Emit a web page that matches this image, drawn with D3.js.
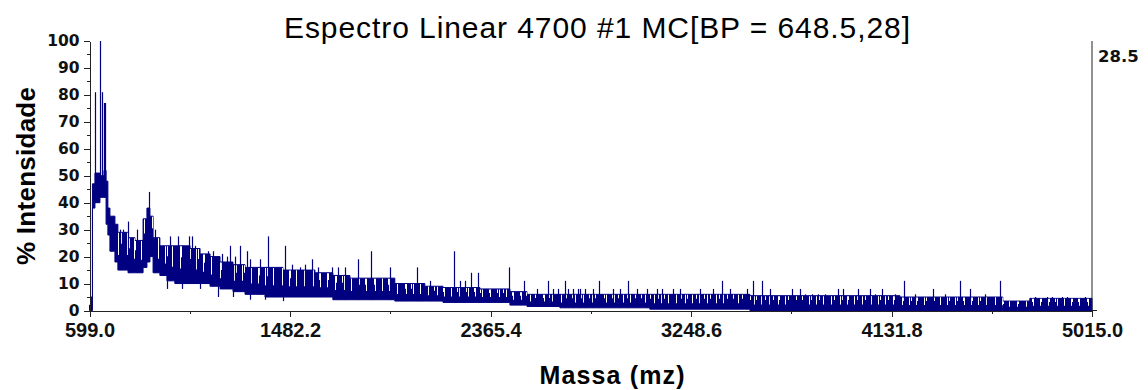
<!DOCTYPE html>
<html>
<head>
<meta charset="utf-8">
<script src="https://cdn.jsdelivr.net/npm/d3@7"></script>
<style>
  body { margin: 0; background: #fff; }
  svg { display: block; }
</style>
</head>
<body>
<svg id="chart" width="1148" height="390"></svg>
<script>
// axis ticks
const xTicks = [599.0, 1482.2, 2365.4, 3248.6, 4131.8, 5015.0];
const yTicks = [0, 10, 20, 30, 40, 50, 60, 70, 80, 90, 100];
const yMinorTicks = [5, 15, 25, 35, 45, 55, 65, 75, 85, 95];
const basePeakCounts = '28.5';

// noise band of the spectrum (m/z, lowest and highest % reached)
const bandMass = [599, 606, 612, 623, 645, 663, 672, 680, 689, 711, 724, 769, 799, 835, 852, 865, 879, 909, 940, 975,
    1042, 1086, 1130, 1174, 1231, 1284, 1372, 1451, 1526, 1592, 1671, 1746, 1821, 1944, 2010, 2076, 2156, 2319, 2451,
    2526, 2671, 3067, 3508, 4169, 4622, 4741, 5015];
const bandHigh = [2, 5, 47, 51, 50, 52, 48, 38, 35, 32, 29, 27, 26, 34, 38, 35, 27, 24, 24, 24,
    23, 21, 20, 18, 17, 16, 16, 15, 15, 14, 13, 12, 12, 10, 10, 9, 8.5, 8, 7,
    6, 6, 6, 5.5, 5, 3.5, 4.5, 4.5];
const bandLow = [0, 0, 38, 40, 42, 42, 32, 28, 22, 18, 15, 14, 14, 16, 18, 20, 14, 13, 11, 10,
    10, 10, 9, 8, 7, 6, 5, 5, 5, 5, 4, 4, 4, 3.5, 3.5, 3.5, 3, 3, 2,
    1.5, 1, 0.5, 0, 0, 0, 0, 0];

// single peaks standing out of the band
const peakMass = [623, 645, 656, 663, 668, 733, 746, 769, 808, 862, 887, 922, 953, 975, 989, 1011, 1037, 1050, 1064,
    1121, 1143, 1183, 1205, 1218, 1240, 1262, 1293, 1306, 1350, 1385, 1460, 1491, 1526, 1548, 1579, 1605, 1667, 1694,
    1724, 1783, 1838, 1922, 2041, 2098, 2204, 2231, 2253, 2279, 2310, 2446, 2512, 2570, 2618, 2640, 2662, 2693, 2706,
    2728, 2750, 2759, 2781, 2816, 2843, 2904, 2935, 2970, 3010, 3054, 3098, 3120, 3168, 3199, 3287, 3345, 3384, 3419,
    3494, 3521, 3560, 3596, 3692, 3728, 3750, 3781, 3807, 3838, 3895, 3917, 3983, 4036, 4058, 4089, 4146, 4186, 4234,
    4313, 4366, 4432, 4476, 4542, 4608, 4762, 4815, 4837, 4881, 4907, 4983];
const peakIntensity = [81, 100, 81, 77, 77, 30, 30, 33, 30, 44, 30, 24, 27.5, 24, 27.5, 24, 27.5, 27.5, 24,
    22, 22, 21, 20, 24, 20, 24, 22, 19, 19, 27.5, 24, 17, 16, 17, 19, 16, 16, 16,
    16, 19, 22, 16, 16, 11, 22, 11, 11, 14, 14, 16, 11, 8, 11, 8, 8, 11, 8,
    8, 8, 8, 8, 8, 11, 8, 8, 11, 8, 8, 8, 8, 8, 8, 8, 8, 11, 8,
    8, 11, 11, 8, 8, 8, 6, 6, 6, 6, 8, 8, 8, 8, 6, 8, 6, 11, 6,
    8, 6, 11, 8, 6, 11, 5, 5, 5, 5, 5, 5];

// short drops below the band
const dipMass = [940, 1006, 1086, 1165, 1231, 1306, 1372, 1451];
const dipIntensity = [8, 8, 8, 5, 5, 4, 4, 3.5];

const svg = d3.select('#chart');
const axisColor = '#222';
const lineColor = '#000080';
const arial = 'Arial, "Liberation Sans", Arimo, Helvetica, Roboto, sans-serif';
const wide = '"DejaVu Sans", Verdana, sans-serif';

const x = d3.scaleLinear().domain([599, 5015]).range([89.5, 1092]);
const y = d3.scaleLinear().domain([0, 100]).range([310.5, 41]);

// texture: the noise trace leaves thin white slits in the top of the band
const defs = svg.append('defs');
function slitPattern(id, width, slots) {
    const p = defs.append('pattern').attr('id', id)
        .attr('patternUnits', 'userSpaceOnUse').attr('width', width).attr('height', 390);
    slots.forEach(s => p.append('rect')
        .attr('x', s).attr('width', 1).attr('height', 390).style('fill', '#fff'));
}
slitPattern('slits-deep', 31, [3, 10, 17, 25]);
slitPattern('slits-short', 23, [6, 14, 20]);

// title
svg.append('text')
    .attr('x', 597).attr('y', 38)
    .attr('text-anchor', 'middle')
    .attr('textLength', 626)
    .style('font-family', arial)
    .style('font-size', '30px')
    .style('fill', '#000')
    .text('Espectro Linear 4700 #1 MC[BP = 648.5,28]');

const band = bandMass.map((m, i) => ({ m: m, lo: bandLow[i], hi: bandHigh[i] }));
const lowAt = m => band[Math.max(0, d3.bisector(d => d.m).right(band, m) - 1)].lo;

const view = svg.append('g');

view.append('path')
    .datum(band)
    .attr('d', d3.area()
        .curve(d3.curveStepAfter)
        .x(d => x(d.m))
        .y0(d => y(d.lo))
        .y1(d => y(d.hi)))
    .style('fill', lineColor)
    .style('stroke', lineColor)
    .style('stroke-width', 1);

[['slits-deep', 0.6], ['slits-short', 0.3]].forEach(([id, depth]) => {
    view.append('path')
        .datum(band.filter(d => d.m > 700))
        .attr('d', d3.area()
            .curve(d3.curveStepAfter)
            .x(d => x(d.m))
            .y0(d => y(d.hi - (d.hi - d.lo) * depth))
            .y1(d => y(d.hi) + 0.5))
        .style('fill', `url(#${id})`);
});

view.append('g').selectAll('line')
    .data(peakMass.map((m, i) => ({ m: m, v: peakIntensity[i] })))
    .enter().append('line')
    .attr('x1', d => Math.round(x(d.m)) + 0.5)
    .attr('x2', d => Math.round(x(d.m)) + 0.5)
    .attr('y1', d => y(lowAt(d.m)))
    .attr('y2', d => y(d.v))
    .style('stroke', lineColor)
    .style('stroke-width', 1.2);

view.append('g').selectAll('line')
    .data(dipMass.map((m, i) => ({ m: m, v: dipIntensity[i] })))
    .enter().append('line')
    .attr('x1', d => Math.round(x(d.m)) + 0.5)
    .attr('x2', d => Math.round(x(d.m)) + 0.5)
    .attr('y1', d => y(lowAt(d.m)))
    .attr('y2', d => y(d.v))
    .style('stroke', lineColor)
    .style('stroke-width', 1.2);

// left axis
const yAxisG = svg.append('g').attr('transform', 'translate(89.5,0)')
    .call(d3.axisLeft(y).tickValues(yTicks).tickSize(6).tickSizeOuter(0).tickPadding(4));
svg.append('g').attr('transform', 'translate(89.5,0)')
    .call(d3.axisLeft(y).tickValues(yMinorTicks).tickSize(3).tickSizeOuter(0).tickFormat(''))
    .select('.domain').remove();
yAxisG.selectAll('text')
    .style('font-family', wide)
    .style('font-weight', 'bold')
    .style('font-size', '15.5px')
    .style('fill', '#111');

// bottom axis
const xMinor = xTicks.slice(1).map((t, i) => (t + xTicks[i]) / 2);
const xAxisG = svg.append('g').attr('transform', 'translate(0,310.5)')
    .call(d3.axisBottom(x).tickValues(xTicks).tickFormat(d3.format('.1f')).tickSize(6).tickSizeOuter(0).tickPadding(6));
svg.append('g').attr('transform', 'translate(0,310.5)')
    .call(d3.axisBottom(x).tickValues(xMinor).tickSize(3).tickSizeOuter(0).tickFormat(''))
    .select('.domain').remove();
xAxisG.selectAll('text')
    .style('font-family', arial)
    .style('font-weight', 'bold')
    .style('font-size', '20px')
    .style('fill', '#111');

// right side: absolute intensity scale
svg.append('line')
    .attr('x1', 1092).attr('x2', 1092)
    .attr('y1', 41).attr('y2', 310.5);
svg.append('line')
    .attr('x1', 1092).attr('x2', 1097)
    .attr('y1', 310.5).attr('y2', 310.5);
svg.selectAll('line').filter(function() { return !this.style.stroke; })
    .style('stroke', axisColor).style('stroke-width', 1);
svg.append('text')
    .attr('x', 1098).attr('y', 62)
    .style('font-family', wide)
    .style('font-weight', 'bold')
    .style('font-size', '16.5px')
    .style('fill', '#111')
    .text(basePeakCounts);

svg.selectAll('.domain, .tick line')
    .style('stroke', axisColor)
    .style('shape-rendering', 'crispEdges');

// axis titles
svg.append('text')
    .attr('x', 612).attr('y', 384)
    .attr('text-anchor', 'middle')
    .attr('textLength', 145)
    .style('font-family', arial)
    .style('font-weight', 'bold')
    .style('font-size', '25px')
    .text('Massa (mz)');

svg.append('text')
    .attr('transform', 'translate(35,176) rotate(-90)')
    .attr('text-anchor', 'middle')
    .attr('textLength', 178)
    .style('font-family', arial)
    .style('font-weight', 'bold')
    .style('font-size', '26px')
    .text('% Intensidade');
</script>
</body>
</html>
